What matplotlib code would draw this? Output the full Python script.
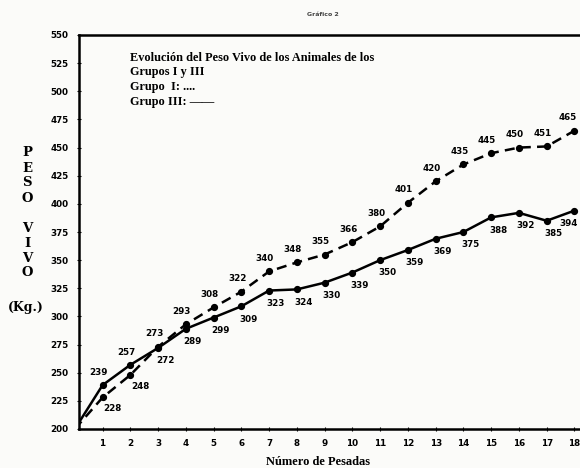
import matplotlib
matplotlib.use("Agg")
import matplotlib.pyplot as plt

pesadas = list(range(0, 19))
grupo_I = [200, 228, 248, 273, 293, 308, 322, 340, 348, 355, 366, 380, 401, 420, 435, 445, 450, 451, 465]
grupo_III = [200, 239, 257, 272, 289, 299, 309, 323, 324, 330, 339, 350, 359, 369, 375, 388, 392, 385, 394]
xticks = list(range(1, 19))
yticks = list(range(200, 551, 25))

fig = plt.figure(figsize=(5.8, 4.68), dpi=100)
fig.patch.set_facecolor("#fbfbf9")
ax = fig.add_axes([79/580, 1 - 429/468, 1 - 79/580, (429 - 35)/468])
ax.set_facecolor("#fbfbf9")

ax.plot(pesadas, grupo_I, color="black", lw=1.8, ls=(0, (4, 2.5)))
ax.plot(pesadas[1:], grupo_I[1:], ls="none", marker="o", ms=4.2, color="black")
ax.plot(pesadas, grupo_III, color="black", lw=1.8)
ax.plot(pesadas[1:], grupo_III[1:], ls="none", marker="o", ms=4.2, color="black")

lab_kw = dict(fontsize=6.3, fontweight="bold", family="DejaVu Sans", textcoords="offset points")
for x, a, b in zip(pesadas[1:], grupo_I[1:], grupo_III[1:]):
    up_dx, dn_dx = -3, 5
    if x == 18:
        up_dx, dn_dx = -5, -4
    if a >= b:
        ax.annotate(str(a), (x, a), xytext=(up_dx, 6), ha="center", va="bottom", **lab_kw)
        ax.annotate(str(b), (x, b), xytext=(dn_dx, -6), ha="center", va="top", **lab_kw)
    else:
        ax.annotate(str(b), (x, b), xytext=(up_dx, 6), ha="center", va="bottom", **lab_kw)
        ax.annotate(str(a), (x, a), xytext=(dn_dx + 2, -5), ha="center", va="top", **lab_kw)

ax.set_xlim(0.15, 18.2)
ax.set_ylim(200, 550)
ax.set_xticks(xticks)
ax.set_yticks(yticks)
ax.set_xticklabels([str(t) for t in xticks], fontsize=6.3, fontweight="bold")
ax.set_yticklabels([str(t) for t in yticks], fontsize=6.3, fontweight="bold")
ax.tick_params(direction="inout", length=3, width=0.8, pad=6)
for s in ["left", "bottom", "top"]:
    ax.spines[s].set_linewidth(1.8)
ax.spines["right"].set_visible(False)

serif = "Liberation Serif"
slab = "DejaVu Serif"
title_lines = ["Evolución del Peso Vivo de los Animales de los",
               "Grupos I y III",
               "Grupo  I: ....",
               "Grupo III: ——"]
for i, t in enumerate(title_lines):
    fig.text(130/580, 1 - (58 + 14.5*i)/468, t, family=serif, fontsize=8.8,
             fontweight="bold", va="center", ha="left")

fig.text(323/580, 1 - 15/468, "Gráfico 2", fontsize=4.5, ha="center", va="center",
         fontweight="bold", color="#444444")

for i, ch in enumerate("PESO"):
    fig.text(27/580, 1 - (153 + 15*i)/468, ch, family=slab, fontsize=9.5,
             fontweight="bold", ha="center", va="center")
for i, ch in enumerate("VIVO"):
    fig.text(27/580, 1 - (228 + 15*i)/468, ch, family=slab, fontsize=9.5,
             fontweight="bold", ha="center", va="center")
fig.text(26/580, 1 - 307/468, "(Kg.)", family=slab, fontsize=9,
         fontweight="bold", ha="center", va="center")

fig.text(318/580, 1 - 462/468, "Número de Pesadas", family=serif, fontsize=9,
         fontweight="bold", ha="center", va="center")

fig.savefig("out.png", dpi=100, facecolor=fig.get_facecolor())
